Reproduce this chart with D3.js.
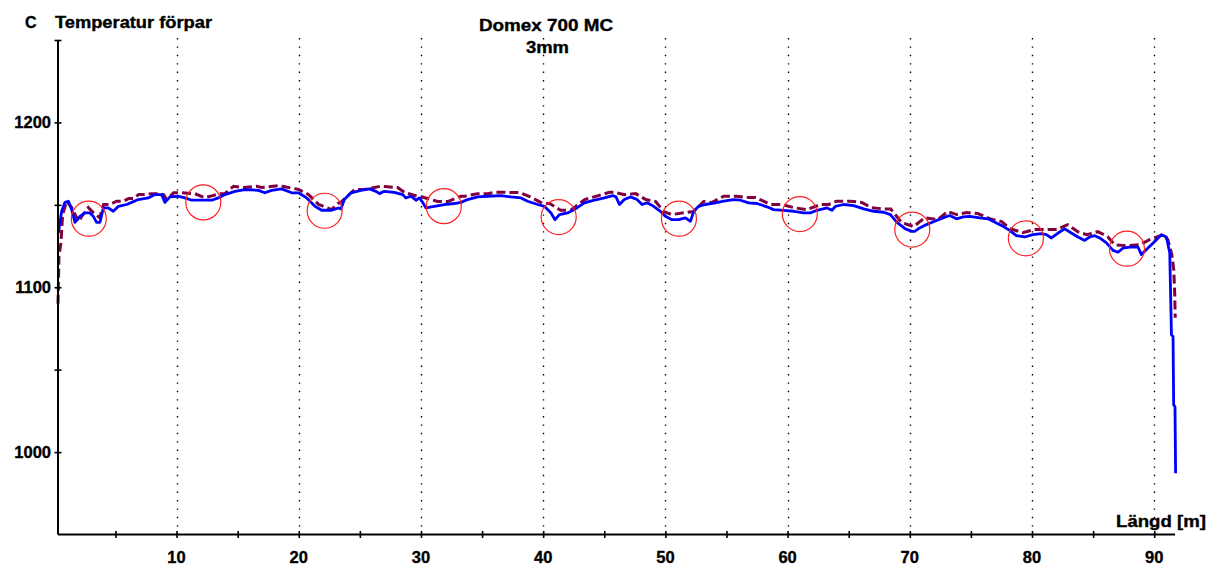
<!DOCTYPE html>
<html>
<head>
<meta charset="utf-8">
<script src="https://cdn.jsdelivr.net/npm/d3@7"></script>
<style>
  html, body { margin: 0; padding: 0; background: #fff; }
  svg { display: block; }
  text { font-family: "Liberation Sans", Arial, sans-serif; font-weight: bold; fill: #000; stroke: #000; stroke-width: 0.35px; }
</style>
</head>
<body>
<div id="chart"></div>
<script>
// blue trace: measured temperature along the strip
var lengthBlue = [0.33, 0.60, 0.87, 1.15, 1.42, 1.69, 2.09, 2.50, 2.91, 3.19, 3.46, 3.73, 4.01, 4.42, 4.83, 5.24, 5.92, 6.33, 6.87, 7.69,
  8.23, 8.78, 9.05, 9.46, 10.15, 10.69, 11.24, 12.05, 12.87, 13.42, 13.96, 14.78, 15.60, 16.69, 17.23, 17.78, 18.60, 19.42, 19.97, 20.65,
  21.33, 21.87, 22.69, 23.24, 23.45, 23.73, 24.27, 25.09, 25.78, 26.32, 26.60, 27.00, 27.82, 28.50, 28.77, 29.18, 29.59, 29.87, 30.14, 30.41,
  31.10, 31.91, 32.73, 33.27, 33.82, 34.64, 35.46, 36.55, 37.36, 38.18, 38.73, 39.55, 40.10, 40.64, 40.97, 41.33, 42.00, 42.55, 43.37, 44.19,
  45.01, 45.69, 45.96, 46.24, 46.64, 47.14, 47.68, 48.09, 48.49, 49.04, 49.59, 50.00, 50.54, 51.09, 51.64, 52.05, 52.32, 52.72, 53.27, 54.09,
  54.77, 55.59, 56.14, 56.82, 57.50, 58.31, 58.86, 59.68, 60.50, 61.32, 61.87, 62.41, 63.23, 63.63, 63.91, 64.59, 65.41, 66.23, 67.05, 67.87,
  68.41, 68.95, 69.64, 70.18, 70.40, 70.81, 71.36, 72.04, 72.72, 73.27, 73.82, 74.37, 74.91, 75.73, 76.40, 77.09, 77.63, 78.17, 78.72, 79.40,
  80.08, 80.77, 81.18, 81.59, 82.13, 82.68, 83.22, 83.76, 84.31, 84.72, 85.13, 85.54, 86.09, 86.63, 87.04, 87.45, 88.00, 88.67, 88.95, 89.49,
  90.04, 90.59, 91.00, 91.27, 91.41, 91.54, 91.59, 91.70, 91.75];
var tempBlue = [1132.9, 1146.1, 1151.5, 1152.2, 1147.1, 1139.4, 1143.0, 1145.1, 1145.1, 1143.0, 1139.4, 1139.4, 1148.1, 1148.1, 1146.1, 1149.1, 1150.2, 1151.5, 1153.2, 1154.2,
  1156.2, 1156.2, 1151.5, 1154.8, 1155.2, 1154.2, 1152.8, 1152.8, 1152.8, 1154.2, 1156.2, 1158.2, 1159.3, 1158.8, 1157.3, 1158.8, 1159.7, 1157.3, 1157.3, 1154.2,
  1149.1, 1146.7, 1146.7, 1148.1, 1147.5, 1153.2, 1157.3, 1158.8, 1159.7, 1158.2, 1156.8, 1158.2, 1157.6, 1156.2, 1154.2, 1155.2, 1152.8, 1154.2, 1151.5, 1148.1,
  1149.1, 1150.2, 1150.8, 1151.5, 1153.2, 1154.8, 1155.2, 1155.6, 1154.8, 1154.2, 1152.2, 1150.2, 1149.1, 1145.1, 1141.0, 1144.1, 1145.1, 1147.1, 1151.2, 1152.8,
  1154.2, 1155.6, 1154.8, 1150.2, 1153.2, 1154.8, 1153.2, 1150.2, 1151.2, 1149.1, 1146.1, 1143.0, 1141.0, 1141.0, 1142.1, 1140.0, 1146.1, 1149.1, 1150.2, 1151.2,
  1152.2, 1153.2, 1152.8, 1151.2, 1150.8, 1148.8, 1147.1, 1146.7, 1146.1, 1145.1, 1145.1, 1146.7, 1148.1, 1146.7, 1149.1, 1150.2, 1149.5, 1147.5, 1146.1, 1145.5,
  1144.1, 1139.4, 1135.4, 1133.9, 1133.9, 1136.0, 1138.0, 1140.0, 1142.1, 1143.5, 1141.5, 1142.7, 1143.0, 1142.1, 1141.5, 1139.0, 1137.0, 1134.5, 1131.3, 1130.5,
  1131.9, 1132.5, 1131.9, 1129.9, 1132.9, 1135.4, 1132.9, 1130.5, 1128.4, 1130.5, 1131.3, 1129.9, 1126.9, 1122.4, 1121.2, 1123.8, 1124.4, 1124.4, 1119.8, 1123.8,
  1127.8, 1131.9, 1130.5, 1120.8, 1071.1, 1070.1, 1028.6, 1027.5, 987.2];

// dashed maroon trace
var lengthRed = [0.30, 0.38, 0.54, 0.68, 1.01, 1.42, 1.99, 2.23, 2.78, 3.19, 3.71, 4.03, 4.53, 5.10, 5.67, 6.08, 6.49, 6.90, 7.39, 7.96,
  8.54, 8.94, 9.19, 9.76, 10.42, 11.48, 12.30, 12.95, 13.53, 13.94, 14.67, 15.49, 16.55, 16.96, 18.36, 18.77, 19.99, 20.81, 21.63, 22.69,
  23.18, 23.43, 24.57, 25.39, 26.70, 27.03, 28.09, 28.67, 29.73, 29.90, 31.37, 32.19, 33.25, 33.58, 34.64, 35.46, 36.11, 36.85, 38.08, 38.90,
  39.96, 40.53, 41.43, 42.25, 43.40, 44.22, 45.44, 45.85, 46.67, 47.57, 48.39, 49.21, 49.86, 50.52, 51.66, 52.32, 53.13, 53.79, 54.77, 55.83,
  56.82, 57.39, 58.62, 59.52, 60.50, 61.56, 62.71, 63.36, 64.02, 65.16, 66.06, 66.88, 67.87, 68.44, 69.34, 70.32, 71.22, 72.29, 73.10, 73.84,
  74.66, 75.56, 76.54, 77.52, 78.18, 79.24, 80.22, 81.04, 82.02, 82.92, 83.74, 84.48, 85.38, 86.19, 86.77, 87.75, 88.81, 89.63, 90.70, 91.11,
  91.44, 91.60, 91.68, 91.72];
var tempRed = [1090.0, 1118.7, 1127.1, 1144.1, 1152.2, 1148.3, 1139.8, 1142.9, 1148.3, 1145.3, 1142.2, 1150.2, 1150.2, 1152.2, 1152.2, 1153.8, 1153.8, 1156.2, 1156.2, 1156.8,
  1156.8, 1156.2, 1153.2, 1157.3, 1157.3, 1156.8, 1154.4, 1155.6, 1156.8, 1156.8, 1161.3, 1160.5, 1161.3, 1160.5, 1161.7, 1161.1, 1159.3, 1156.2, 1150.2, 1147.1,
  1150.8, 1151.4, 1159.3, 1159.3, 1161.3, 1161.1, 1160.5, 1157.4, 1155.2, 1155.2, 1152.0, 1152.0, 1155.2, 1155.2, 1156.8, 1156.8, 1157.6, 1157.6, 1157.4, 1155.0,
  1150.8, 1150.8, 1146.7, 1146.7, 1153.2, 1155.0, 1157.6, 1157.6, 1156.2, 1156.8, 1153.2, 1152.0, 1145.9, 1144.1, 1145.3, 1145.9, 1152.0, 1151.4, 1155.2, 1155.2,
  1154.4, 1154.4, 1150.2, 1150.2, 1148.3, 1147.1, 1150.2, 1150.2, 1152.2, 1152.2, 1151.4, 1148.3, 1147.5, 1147.5, 1139.2, 1136.8, 1142.2, 1141.0, 1145.9, 1144.1,
  1145.3, 1144.7, 1141.6, 1139.8, 1135.6, 1133.1, 1135.0, 1135.0, 1135.0, 1138.0, 1133.7, 1131.9, 1133.7, 1130.7, 1125.8, 1125.2, 1125.8, 1128.9, 1131.9, 1128.9,
  1119.8, 1110.6, 1095.4, 1081.5];

// red circles marking dips
var circleLength = [2.82, 12.19, 22.12, 31.87, 41.27, 51.11, 61.0, 70.2, 79.5, 87.77];
var circleTemp = [1141.6, 1151.5, 1146.4, 1149.2, 1142.6, 1141.6, 1144.4, 1135.0, 1129.7, 1123.4];

var xTicks = [5, 10, 15, 20, 25, 30, 35, 40, 45, 50, 55, 60, 65, 70, 75, 80, 85, 90];
var xLabels = [10, 20, 30, 40, 50, 60, 70, 80, 90];
var yTicks = [1000, 1050, 1100, 1150, 1200, 1250];
var yLabels = [1000, 1100, 1200];

(function() {
  var W = 1215, H = 566;
  var x = d3.scaleLinear().domain([0.3, 91.7]).range([58, 1175]);
  var y = d3.scaleLinear().domain([950, 1250]).range([534.5, 40]);

  var svg = d3.select('#chart').append('svg')
    .attr('width', W)
    .attr('height', H);

  svg.append('rect').attr('width', W).attr('height', H).attr('fill', '#fff');

  // dotted vertical grid
  svg.append('g').selectAll('line')
    .data(xLabels)
    .join('line')
    .attr('x1', function(d) { return Math.round(x(d)) + 0.5; })
    .attr('x2', function(d) { return Math.round(x(d)) + 0.5; })
    .attr('y1', 38)
    .attr('y2', y(950))
    .attr('stroke', '#000')
    .attr('stroke-width', 1.4)
    .attr('stroke-dasharray', '1.4,7');

  var line = d3.line()
    .x(function(d) { return x(d[0]); })
    .y(function(d) { return y(d[1]); });

  svg.append('path')
    .datum(d3.zip(lengthRed, tempRed))
    .attr('d', line)
    .attr('fill', 'none')
    .attr('stroke', '#800040')
    .attr('stroke-width', 3)
    .attr('stroke-dasharray', '9,4');

  svg.append('path')
    .datum(d3.zip(lengthBlue, tempBlue))
    .attr('d', line)
    .attr('fill', 'none')
    .attr('stroke', '#0000ff')
    .attr('stroke-width', 2.8)
    .attr('stroke-linejoin', 'round');

  svg.append('g').selectAll('circle')
    .data(d3.zip(circleLength, circleTemp))
    .join('circle')
    .attr('cx', function(d) { return x(d[0]); })
    .attr('cy', function(d) { return y(d[1]); })
    .attr('r', 17.5)
    .attr('fill', 'none')
    .attr('stroke', '#ff2020')
    .attr('stroke-width', 1.2);

  // axes
  var xAxis = d3.axisBottom(x).tickValues(xTicks).tickSize(0).tickFormat('');
  var gx = svg.append('g').attr('transform', 'translate(0,' + y(950) + ')').call(xAxis);
  gx.select('.domain').attr('stroke', '#000').attr('stroke-width', 2).attr('d', 'M' + x(0.3) + ',0H' + x(91.7));
  gx.selectAll('.tick line').attr('y1', -3.5).attr('y2', 3.5).attr('stroke', '#000').attr('stroke-width', 1.6);

  svg.append('g').selectAll('text')
    .data(xLabels)
    .join('text')
    .attr('x', function(d) { return x(d); })
    .attr('y', 563)
    .attr('text-anchor', 'middle')
    .style('font-size', '16.5px')
    .text(function(d) { return d; });

  var yAxis = d3.axisLeft(y).tickValues(yTicks).tickSize(0).tickFormat('');
  var gy = svg.append('g').attr('transform', 'translate(' + x(0.3) + ',0)').call(yAxis);
  gy.select('.domain').attr('stroke', '#000').attr('stroke-width', 2).attr('d', 'M0,' + y(1250) + 'V' + y(950));
  gy.selectAll('.tick line').attr('x1', -3.5).attr('x2', 3.5).attr('stroke', '#000').attr('stroke-width', 1.6);

  svg.append('g').selectAll('text')
    .data(yLabels)
    .join('text')
    .attr('x', 51)
    .attr('y', function(d) { return y(d); })
    .attr('dy', '0.36em')
    .attr('text-anchor', 'end')
    .style('font-size', '16.5px')
    .text(function(d) { return d; });

  // titles
  addLabel(25, 27.5, 'start', 'C', null);
  addLabel(55, 27.5, 'start', 'Temperatur förpar', 157);
  addLabel(479, 30.5, 'start', 'Domex 700 MC', 134);
  addLabel(526, 53, 'start', '3mm', 43);
  addLabel(1116, 526.5, 'start', 'Längd [m]', 90);

  function addLabel(px, py, anchor, str, len) {
    var t = svg.append('text')
      .attr('x', px)
      .attr('y', py)
      .attr('text-anchor', anchor)
      .style('font-size', '16px')
      .text(str);
    if (len) {
      t.attr('textLength', len).attr('lengthAdjust', 'spacingAndGlyphs');
    }
  }
})();
</script>
</body>
</html>
